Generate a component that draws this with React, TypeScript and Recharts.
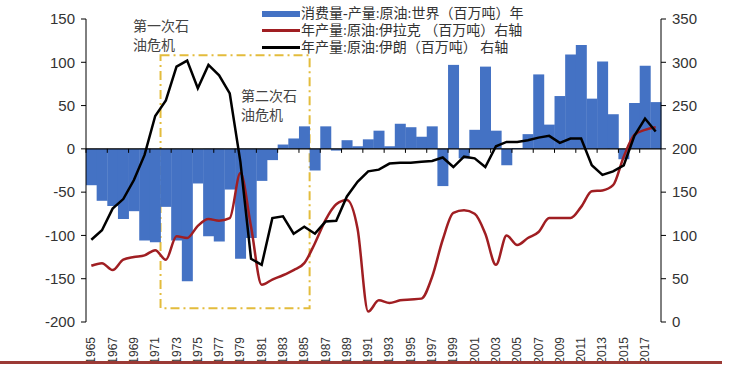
import {
  ComposedChart,
  Bar,
  Line,
  XAxis,
  YAxis,
  ReferenceLine,
  ReferenceArea,
} from "recharts";

// 年份
const years = [
  1965, 1966, 1967, 1968, 1969, 1970, 1971, 1972, 1973, 1974,
  1975, 1976, 1977, 1978, 1979, 1980, 1981, 1982, 1983, 1984,
  1985, 1986, 1987, 1988, 1989, 1990, 1991, 1992, 1993, 1994,
  1995, 1996, 1997, 1998, 1999, 2000, 2001, 2002, 2003, 2004,
  2005, 2006, 2007, 2008, 2009, 2010, 2011, 2012, 2013, 2014,
  2015, 2016, 2017, 2018,
];

// 消费量-产量:原油:世界（百万吨）
const worldGap = [
  -42, -60, -66, -81, -72, -106, -108, -67, -106, -153,
  -40, -101, -107, -47, -127, -103, -37, -13, 5, 12,
  26, -25, 26, -2, 10, 3, 11, 21, 3, 29,
  25, 14, 26, -43, 97, -11, 22, 95, 21, -19,
  1, 17, 86, 28, 61, 109, 120, 58, 101, 40,
  -12, 53, 96, 54,
];

// 年产量:原油:伊拉克（百万吨）右轴
const iraq = [
  65, 68, 60, 72, 75, 77, 83, 72, 99, 97,
  111, 119, 117, 120, 172, 110, 43, 49, 54, 60,
  68, 91, 118, 136, 141, 108, 12, 25, 22, 25,
  26, 27, 52, 95, 126, 129, 125, 102, 66, 100,
  89, 97, 104, 120, 120, 120, 133, 151, 152, 158,
  191, 216, 222, 225,
];

// 年产量:原油:伊朗（百万吨）右轴
const iran = [
  95, 106, 131, 142, 164, 193, 238, 256, 295, 302,
  270, 297, 285, 264, 185, 73, 66, 120, 122, 102,
  110, 102, 116, 117, 145, 162, 174, 176, 183, 184,
  184, 185, 186, 190, 179, 191, 189, 179, 203, 208,
  208, 210, 213, 215, 207, 212, 212, 181, 170, 174,
  181, 215, 235, 220,
];

const leftTicks = [-200, -150, -100, -50, 0, 50, 100, 150];
const rightTicks = [0, 50, 100, 150, 200, 250, 300, 350];

const legendItems = [
  { name: "消费量-产量:原油:世界（百万吨）年", color: "#4472C4", kind: "rect" },
  { name: "年产量:原油:伊拉克 （百万吨）右轴", color: "#A01E22", kind: "line" },
  { name: "年产量:原油:伊朗（百万吨） 右轴", color: "#000000", kind: "line" },
];

const data = years.map((y, i) => ({
  year: String(y),
  gap: worldGap[i],
  iraq: iraq[i],
  iran: iran[i],
}));

const W = 731;
const H = 371;
const M = { top: 19, right: 20, bottom: 9, left: 26 };
const LEFT_W = 60;
const RIGHT_W = 50;
const X_H = 40;
const plotTop = M.top;
const plotH = H - M.top - M.bottom - X_H;
const plotW = W - M.left - M.right - LEFT_W - RIGHT_W;
const band = plotW / years.length;
const zeroY = plotTop + (plotH * 150) / 350;

const axisFont = "'Liberation Sans', Arial, sans-serif";
const cjkFont = "'Liberation Serif', 'Noto Sans CJK SC', serif";

function YearTick(props: any) {
  const { x, y, payload } = props;
  const tx = x - band / 2;
  return (
    <g>
      <line x1={tx} x2={tx} y1={zeroY} y2={zeroY + 4} stroke="#000" />
      <text
        x={x}
        y={y}
        transform={`rotate(-90, ${x}, ${y})`}
        textAnchor="end"
        dominantBaseline="central"
        fontSize={12}
        fontFamily={axisFont}
        fill="#333"
      >
        {payload.value}
      </text>
    </g>
  );
}

function LegendBox() {
  return (
    <div
      style={{
        position: "absolute",
        left: 262,
        top: 5,
        fontFamily: cjkFont,
        fontSize: 14,
        color: "#333",
        lineHeight: "17px",
      }}
    >
      {legendItems.map((it) => (
        <div key={it.name} style={{ display: "flex", alignItems: "center", whiteSpace: "nowrap" }}>
          <span
            style={{
              display: "inline-block",
              width: 38,
              height: it.kind === "rect" ? 6 : 3,
              background: it.color,
              marginRight: 1,
            }}
          />
          <span>{it.name}</span>
        </div>
      ))}
    </div>
  );
}

const noteStyle = {
  position: "absolute" as const,
  fontFamily: cjkFont,
  fontSize: 14,
  lineHeight: "19px",
  color: "#444",
};

export default function App() {
  return (
    <div style={{ position: "absolute", left: 0, top: 0, width: W, height: H, background: "#fff" }}>
      <ComposedChart width={W} height={H} data={data} margin={M} barCategoryGap={0} barGap={0}>
        <XAxis
          dataKey="year"
          interval={1}
          height={X_H}
          axisLine={false}
          tickLine={false}
          tickSize={0}
          tickMargin={15}
          tick={<YearTick />}
        />
        <YAxis
          yAxisId="left"
          domain={[-200, 150]}
          ticks={leftTicks}
          width={LEFT_W}
          tickSize={5}
          tickMargin={6}
          axisLine={{ stroke: "#000" }}
          tickLine={{ stroke: "#000" }}
          tick={{ fontSize: 15, fill: "#333", fontFamily: axisFont }}
        />
        <YAxis
          yAxisId="right"
          orientation="right"
          domain={[0, 350]}
          ticks={rightTicks}
          width={RIGHT_W}
          tickSize={5}
          tickMargin={6}
          axisLine={{ stroke: "#000" }}
          tickLine={{ stroke: "#000" }}
          tick={{ fontSize: 15, fill: "#333", fontFamily: axisFont }}
        />
        <Bar dataKey="gap" yAxisId="left" fill="#4472C4" isAnimationActive={false} />
        <ReferenceLine y={0} yAxisId="left" stroke="#000" strokeWidth={1.2} />
        <ReferenceArea
          yAxisId="left"
          x1="1972"
          x2="1985"
          y1={-184}
          y2={108}
          fill="none"
          fillOpacity={0}
          stroke="#E3BC3C"
          strokeWidth={2}
          strokeDasharray="9 4 2 4"
          ifOverflow="visible"
        />
        <Line
          dataKey="iraq"
          yAxisId="right"
          type="monotone"
          stroke="#A01E22"
          strokeWidth={2.5}
          dot={false}
          isAnimationActive={false}
        />
        <Line
          dataKey="iran"
          yAxisId="right"
          type="linear"
          stroke="#000"
          strokeWidth={2.5}
          dot={false}
          isAnimationActive={false}
        />
      </ComposedChart>
      <LegendBox />
      <div style={{ ...noteStyle, left: 133, top: 17 }}>
        第一次石
        <br />
        油危机
      </div>
      <div style={{ ...noteStyle, left: 241, top: 87 }}>
        第二次石
        <br />
        油危机
      </div>
      <div
        style={{
          position: "absolute",
          left: 0,
          top: 361,
          width: 722,
          height: 3,
          background: "#9B3A35",
        }}
      />
    </div>
  );
}
